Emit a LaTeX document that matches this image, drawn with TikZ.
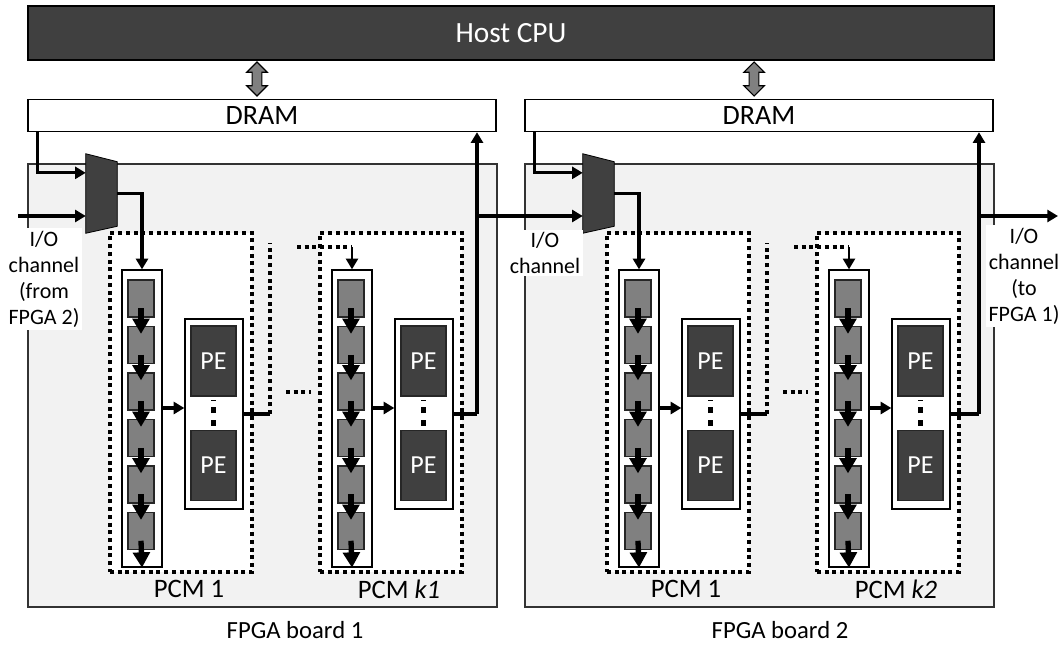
\documentclass[tikz,border=0pt]{standalone}
\usepackage{fontspec}
\setmainfont{Carlito}
\usepackage{tikz}
\usetikzlibrary{arrows.meta,calc,positioning,shapes.arrows}
\colorlet{fpDark}{black!75}
\colorlet{fpCell}{black!50}
\colorlet{fpBoard}{black!5}
\colorlet{fpLine}{black}
\tikzset{
  hostbox/.style={
    rectangle, draw=fpLine, fill=fpDark, line width=1.4pt, text=white,
    minimum width=724.5pt, minimum height=40.5pt, inner sep=0pt,
    font=\fontsize{22}{26}\selectfont
  },
  drambox/.style={
    rectangle, draw=fpLine, fill=white, line width=1.1pt,
    minimum width=351pt, minimum height=24pt, inner sep=0pt,
    font=\fontsize{21}{25}\selectfont
  },
  boardbox/.style={
    rectangle, draw=black!80, fill=fpBoard, line width=0.9pt,
    minimum width=351.75pt, minimum height=332.25pt, inner sep=0pt
  },
  busarrow/.style={
    double arrow, draw=fpLine, fill=fpCell, line width=0.8pt, rotate=90,
    minimum height=25.5pt, inner xsep=0pt, inner ysep=3.3pt,
    double arrow head extend=4pt
  },
  muxbox/.style={
    rectangle, minimum width=23.25pt, minimum height=59.25pt, inner sep=0pt
  },
  muxfill/.style={fill=fpDark, draw=fpLine, line width=0.6pt},
  pcmbox/.style={
    rectangle, draw=fpLine, fill=white, line width=2.4pt,
    dash pattern=on 3pt off 2.8pt,
    minimum width=106.5pt, minimum height=254.25pt, inner sep=0pt
  },
  fifobox/.style={
    rectangle, draw=fpLine, fill=white, line width=1pt,
    minimum width=30pt, minimum height=222.75pt, inner sep=0pt
  },
  cellbox/.style={
    rectangle, draw=black!85, fill=fpCell, line width=0.9pt,
    minimum width=19.5pt, minimum height=27.75pt, inner sep=0pt
  },
  pewrap/.style={
    rectangle, draw=fpLine, fill=white, line width=1pt,
    minimum width=43.5pt, minimum height=142.5pt, inner sep=0pt
  },
  pebox/.style={
    rectangle, draw=black!85, fill=fpDark, line width=0.9pt, text=white,
    minimum width=33.75pt, minimum height=52.5pt, inner sep=0pt,
    font=\fontsize{19.5}{22}\selectfont
  },
  pcmlabel/.style={font=\fontsize{20}{24}\selectfont, inner sep=0pt},
  boardlabel/.style={font=\fontsize{18.5}{22}\selectfont, inner sep=0pt},
  iolabel/.style={
    fill=white, align=center, inner sep=2pt,
    font=\fontsize{16.5}{19.5}\selectfont
  },
  fparrow/.style={-{Triangle[length=8pt,width=9pt]}, line width=2.3pt, draw=fpLine},
  fpflow/.style={-{Triangle[length=11.5pt,width=12.5pt]}, line width=4pt, draw=fpLine},
  fpline/.style={line width=2.4pt, draw=fpLine},
  fpdots/.style={line width=2.4pt, draw=fpLine, dash pattern=on 3pt off 2.8pt},
  pedots/.style={line width=4pt, draw=fpLine, dash pattern=on 4.5pt off 5pt}
}

\begin{document}
\begin{tikzpicture}[x=0.75pt,y=-0.75pt]
  \useasboundingbox (0,0) rectangle (1064,646);
  \node[hostbox] (cpu) at (511,33) {Host CPU};

  \foreach \bd/\dx/\ox/\lx/\nr in {A/0/477/295/1, B/497/979/780/2}{
    \node[boardbox] (board\bd) at (262.5+\dx,385.5) {};
    \node[drambox] (dram\bd) at (262+\dx,115.5) {DRAM};
    \node[busarrow] (bus\bd) at (257+\dx,79) {};
    \node[muxbox] (mux\bd) at (101.5+\dx,193.5) {};
    \filldraw[muxfill] (mux\bd.north west) -- ([yshift=-6pt]mux\bd.north east)
      -- ([yshift=5.25pt]mux\bd.south east) -- (mux\bd.south west) -- cycle;
    \foreach \pc/\px/\lbl in {1/0/{PCM 1}, k/210/{PCM \textit{k\nr}}}{
      \node[pcmbox] (pcm\bd\pc) at (181+\dx+\px,402.5) {};
      \node[fifobox] (fifo\bd\pc) at (142+\dx+\px,418.5) {};
      \foreach \cl in {1,...,6}
        \node[cellbox] (cell\bd\pc\cl) at (141+\dx+\px,252+46.5*\cl) {};
      \foreach \cl [count=\nx from 2] in {1,...,5}
        \draw[fpflow] ([yshift=7pt]cell\bd\pc\cl.south) -- ([yshift=-6pt]cell\bd\pc\nx.north);
      \draw[fpflow] ([yshift=7pt]cell\bd\pc 6.south) -- (fifo\bd\pc.south);
      \node[pewrap] (pes\bd\pc) at (214+\dx+\px,414) {};
      \node[pebox] (pe\bd\pc1) at (213.5+\dx+\px,361) {PE};
      \node[pebox] (pe\bd\pc2) at (213.5+\dx+\px,465.5) {PE};
      \draw[pedots] ([yshift=3pt]pe\bd\pc2.north) -- ([yshift=-2.25pt]pe\bd\pc1.south);
      \coordinate (feed\bd\pc) at ([yshift=4.5pt]pes\bd\pc.west);
      \draw[fparrow] (feed\bd\pc -| fifo\bd\pc.east) -- (feed\bd\pc);
      \node[pcmlabel] (name\bd\pc) at (189+\dx+\px,589) {\lbl};
    }
    \draw[fparrow] ([xshift=7.5pt]dram\bd.south west) |- ([yshift=15.5pt]mux\bd.west);
    \draw[fparrow] (mux\bd.east) -| (fifo\bd 1.north);
    \coordinate (up\bd) at (270+\dx,243);
    \draw[fpline] (pes\bd 1.east) -- (pes\bd 1.east -| up\bd);
    \draw[fpdots] (pes\bd 1.east -| up\bd) -- (up\bd);
    \coordinate (gapL\bd) at (286+\dx,392);
    \coordinate (gapR\bd) at (311+\dx,392);
    \draw[fpdots] (gapL\bd) -- (gapR\bd);
    \coordinate (in\bd) at (297+\dx,247);
    \draw[fpdots] (in\bd) -- (in\bd -| fifo\bd k.north);
    \draw[fparrow, line width=1.6pt] (in\bd -| fifo\bd k.north) -- (fifo\bd k.north);
    \coordinate (out\bd) at (\ox,414);
    \draw[fpline] (pes\bd k.east) -- (out\bd);
    \draw[fparrow] (out\bd) -- (out\bd |- dram\bd.south);
    \node[boardlabel] (label\bd) at (\lx,630) {FPGA board \nr};
  }

  \coordinate (ioA) at (18,216);
  \draw[fparrow] (ioA) -- (muxA.west |- ioA);
  \draw[fparrow] (outA |- ioA) -- (muxB.west |- ioA);
  \coordinate (exitB) at (1058,216);
  \draw[fparrow] (outB |- exitB) -- (exitB);
  \node[iolabel] (ioFrom) at (44,279) {I/O\\channel\\(from\\FPGA 2)};
  \node[iolabel] (ioMid) at (545,253) {I/O\\channel};
  \node[iolabel] (ioTo) at (1024,276) {I/O\\channel\\(to\\FPGA 1)};
\end{tikzpicture}
\end{document}
